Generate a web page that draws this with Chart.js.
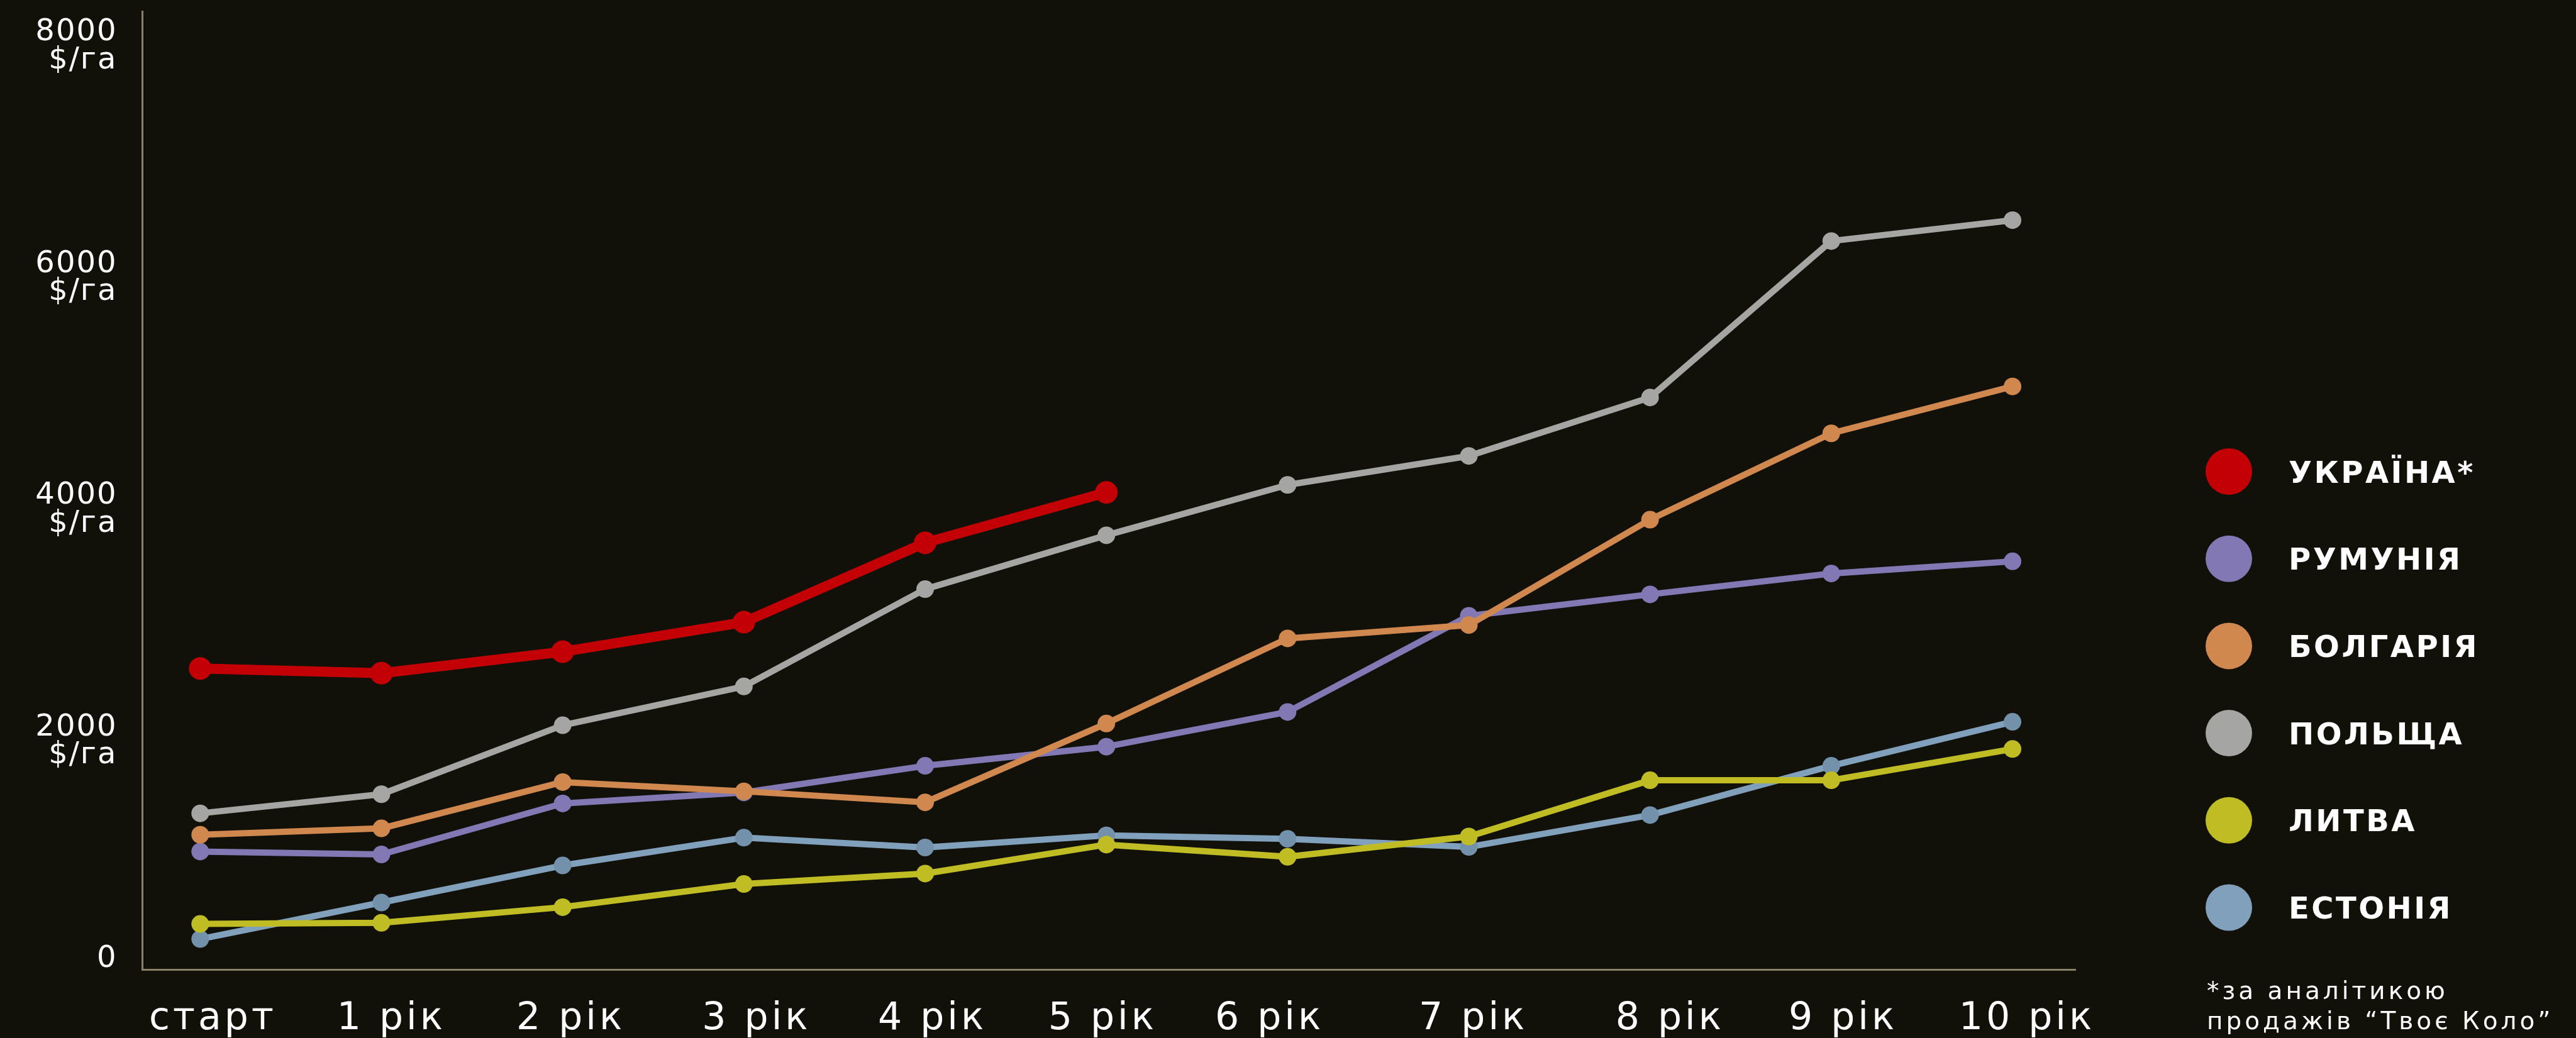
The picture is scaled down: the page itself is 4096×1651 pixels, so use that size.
<!DOCTYPE html>
<html>
<head>
<meta charset="utf-8">
<script src="https://cdn.jsdelivr.net/npm/chart.js@4.4.1/dist/chart.umd.min.js"></script>
<style>
html,body{margin:0;padding:0;background:#111009;overflow:hidden}
canvas{display:block}
</style>
</head>
<body>
<canvas id="c" width="4096" height="1651"></canvas>
<script>
// ---- data ----
const xLabels = ['старт', '1 рік', '2 рік', '3 рік', '4 рік', '5 рік', '6 рік', '7 рік', '8 рік', '9 рік', '10 рік'];
const yTickValues = [0, 2000, 4000, 6000, 8000];
const yUnit = '$/га';
const seriesNames = ['УКРАЇНА*', 'РУМУНІЯ', 'БОЛГАРІЯ', 'ПОЛЬЩА', 'ЛИТВА', 'ЕСТОНІЯ'];
const ukraine   = [2510, 2470, 2655, 2910, 3595, 4030];
const romania   = [930, 905, 1345, 1440, 1670, 1835, 2135, 2965, 3150, 3330, 3435];
const bulgaria  = [1075, 1130, 1530, 1450, 1355, 2035, 2770, 2885, 3795, 4540, 4945];
const poland    = [1260, 1425, 2020, 2355, 3195, 3660, 4095, 4345, 4850, 6200, 6380];
const lithuania = [305, 315, 450, 650, 740, 990, 885, 1060, 1545, 1545, 1815];
const estonia   = [175, 490, 810, 1050, 965, 1070, 1040, 970, 1245, 1670, 2050];
const footnoteLines = ['*за аналітикою', 'продажів “Твоє Коло”'];

// ---- styles ----
const lineColors  = ['#c20005', '#8279b4', '#d1884f', '#a5a5a3', '#bfbd23', '#80a0bb'];
const pointColors = ['#c20005', '#8279b4', '#d1884f', '#a5a5a3', '#bfbd23', '#7391ab'];
const drawOrder   = [0, 2, 1, 3, 4, 5];
const labelNudge  = [0.07, 0.055, 0.045, 0.07, 0.04, -0.02, -0.1, 0.025, 0.11, 0.065, 0.08];
const axisColor = '#8a8166';
const FONT = '"DejaVu Sans", sans-serif';

const seriesValues = [ukraine, romania, bulgaria, poland, lithuania, estonia];
const toPoints = arr => arr.map((v, i) => ({ x: i, y: v }));

const datasets = seriesValues.map((vals, i) => ({
  label: seriesNames[i],
  data: toPoints(vals),
  borderColor: lineColors[i],
  backgroundColor: pointColors[i],
  pointBackgroundColor: pointColors[i],
  pointBorderWidth: 0,
  pointRadius: i === 0 ? 18 : 14,
  borderWidth: i === 0 ? 16 : 10,
  borderJoinStyle: 'round',
  tension: 0,
  order: drawOrder[i]
}));

const spacingPlugin = {
  id: 'labelSpacing',
  afterUpdate(chart) {
    const sp = { x: 5, y: 2 };
    ['x', 'y'].forEach(id => {
      const s = chart.scales[id];
      if (s && !s.__wrapped) {
        const orig = s.drawLabels;
        s.drawLabels = function (area) {
          const ctx = this.ctx;
          ctx.save();
          ctx.letterSpacing = sp[id] + 'px';
          orig.call(this, area);
          ctx.restore();
        };
        s.__wrapped = true;
      }
    });
  }
};

const legendPlugin = {
  id: 'sideLegend',
  afterDraw(chart) {
    const ctx = chart.ctx;
    ctx.save();
    ctx.font = 'bold 48px ' + FONT;
    ctx.letterSpacing = '3.5px';
    ctx.textBaseline = 'alphabetic';
    ctx.textAlign = 'left';
    chart.data.datasets.forEach((ds, i) => {
      const cy = 750 + i * 138.7;
      ctx.fillStyle = ds.borderColor;
      ctx.beginPath();
      ctx.arc(3544, cy, 37, 0, Math.PI * 2);
      ctx.fill();
      ctx.fillStyle = '#ffffff';
      ctx.fillText(ds.label, 3639, cy + 17.5);
    });
    ctx.font = '39px ' + FONT;
    ctx.letterSpacing = '5px';
    ctx.fillStyle = '#ffffff';
    ctx.fillText(footnoteLines[0], 3509, 1588.6);
    ctx.fillText(footnoteLines[1], 3509, 1636.6);
    ctx.restore();
  }
};

new Chart(document.getElementById('c'), {
  type: 'line',
  data: { datasets },
  options: {
    responsive: false,
    animation: false,
    events: [],
    layout: { padding: { left: 0, top: 17.5, right: 796, bottom: 0 } },
    plugins: { legend: { display: false }, tooltip: { enabled: false } },
    scales: {
      x: {
        type: 'linear',
        min: -0.3203,
        max: 10.347,
        grid: { display: false, drawTicks: false },
        border: { display: true, color: axisColor, width: 3 },
        afterBuildTicks: s => { s.ticks = xLabels.map((_, i) => ({ value: i + labelNudge[i] })); },
        afterFit: s => { s.height = 108.5; s.paddingLeft = 0; s.paddingRight = 0; },
        ticks: {
          autoSkip: false,
          maxRotation: 0,
          minRotation: 0,
          padding: 43,
          color: '#ffffff',
          font: { family: FONT, size: 60, lineHeight: 1.2 },
          callback: (v, idx) => xLabels[idx]
        }
      },
      y: {
        type: 'linear',
        min: -90.6,
        max: 8183,
        grid: { display: false, drawTicks: false },
        border: { display: true, color: axisColor, width: 3 },
        afterBuildTicks: s => { s.ticks = yTickValues.map(v => ({ value: v })); },
        afterFit: s => { s.width = 226; s.paddingTop = 0; s.paddingBottom = 0; },
        ticks: {
          padding: 39.5,
          labelOffset: 22.3,
          color: '#ffffff',
          font: { family: FONT, size: 48, lineHeight: 0.93 },
          callback: v => v === 0 ? [String(v), ''] : [String(v), yUnit]
        }
      }
    }
  },
  plugins: [spacingPlugin, legendPlugin]
});
</script>
</body>
</html>
